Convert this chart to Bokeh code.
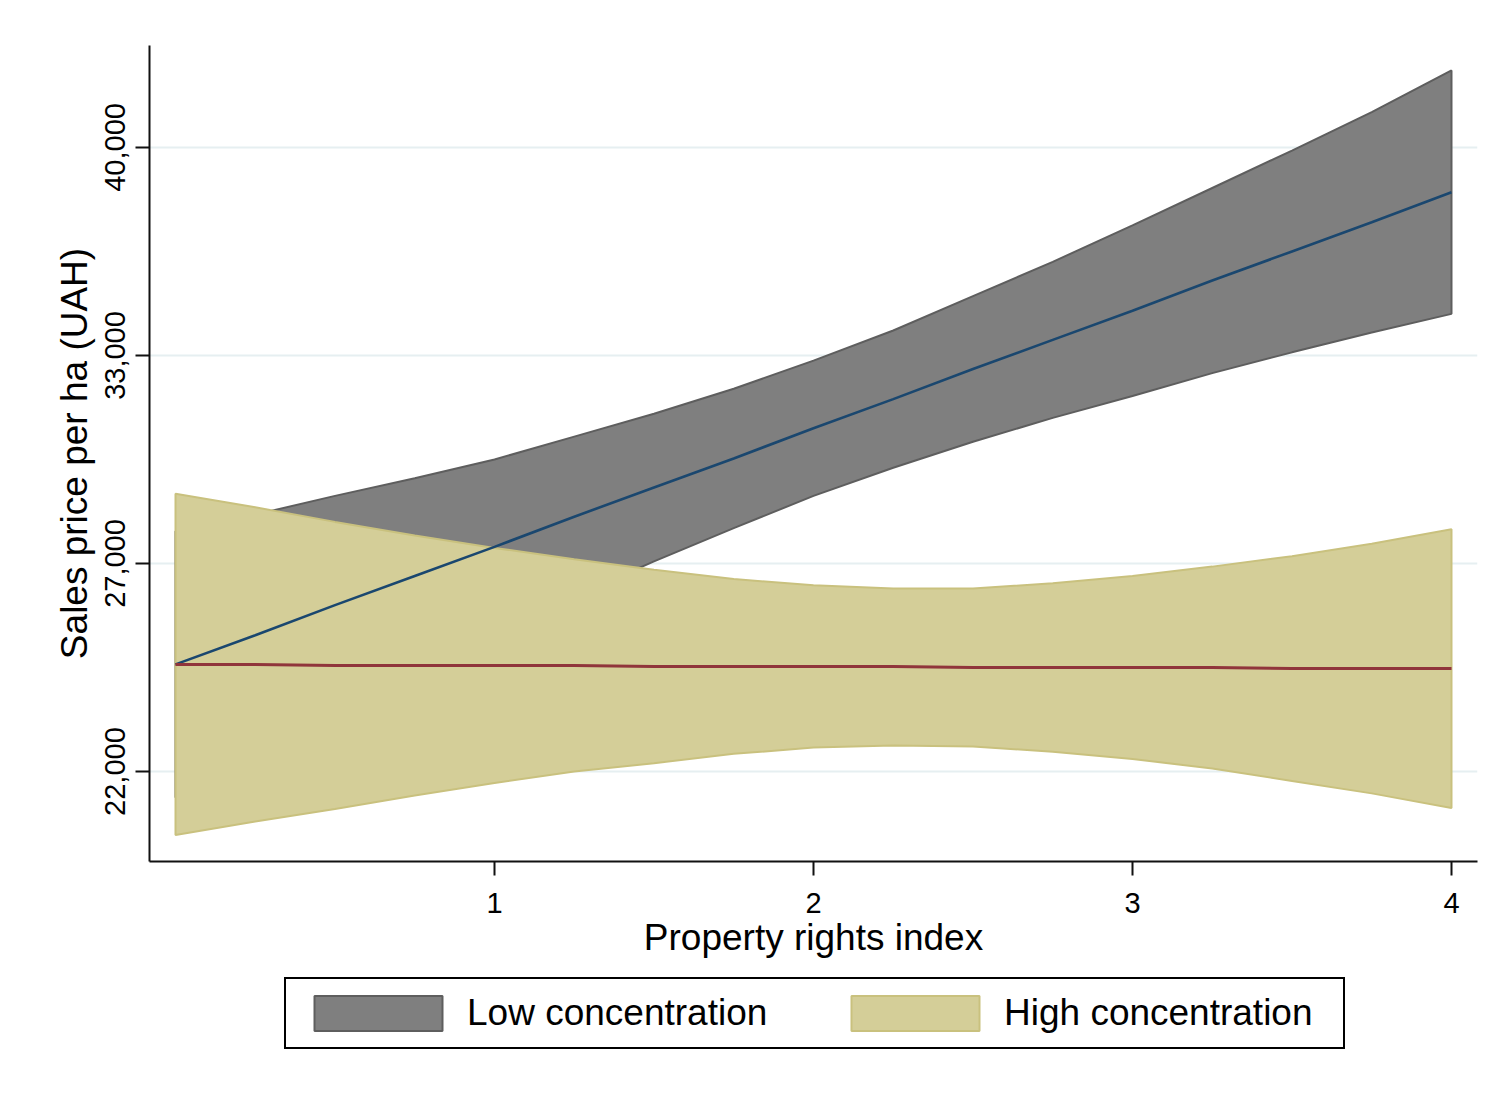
from bokeh.plotting import figure
from bokeh.layouts import column
from bokeh.models import Legend, LegendItem, FixedTicker, Range1d
from bokeh.embed import file_html
from bokeh.resources import INLINE

# ---- data (y in log of sales price per ha) ----
prop_index = [0, 0.25, 0.5, 0.75, 1, 1.25, 1.5, 1.75, 2, 2.25, 2.5, 2.75, 3, 3.25, 3.5, 3.75, 4]
low_fit = [10.103, 10.131, 10.160, 10.188, 10.216, 10.245, 10.273, 10.301, 10.330,
           10.358, 10.387, 10.415, 10.443, 10.472, 10.500, 10.528, 10.557]
low_upper = [10.231, 10.247, 10.265, 10.282, 10.300, 10.322, 10.344, 10.368, 10.395,
             10.424, 10.457, 10.490, 10.525, 10.561, 10.597, 10.634, 10.674]
low_lower = [9.975, 10.015, 10.055, 10.094, 10.132, 10.168, 10.202, 10.234, 10.265,
             10.292, 10.317, 10.340, 10.361, 10.383, 10.403, 10.422, 10.440]
high_fit = [10.103, 10.103, 10.102, 10.102, 10.102, 10.102, 10.101, 10.101, 10.101,
            10.101, 10.100, 10.100, 10.100, 10.100, 10.099, 10.099, 10.099]
high_upper = [10.267, 10.254, 10.240, 10.227, 10.215, 10.204, 10.194, 10.185, 10.179,
              10.176, 10.176, 10.181, 10.188, 10.197, 10.207, 10.219, 10.233]
high_lower = [9.939, 9.952, 9.964, 9.977, 9.989, 10.000, 10.008, 10.017, 10.023,
              10.025, 10.024, 10.019, 10.012, 10.003, 9.991, 9.979, 9.965]
x_ticks = [1, 2, 3, 4]
y_ticks = [10.0, 10.2, 10.4, 10.6]
y_tick_labels = ["22,000", "27,000", "33,000", "40,000"]
series_names = ["Low concentration", "High concentration"]

FONT = "Liberation Sans"
LOW_FILL, LOW_LINE = "#7f7f7f", "#5e5e5e"
HIGH_FILL, HIGH_LINE = "#d4ce98", "#c9c17e"

p = figure(width=1500, height=971, output_backend="svg", toolbar_location=None,
           x_range=Range1d(-0.0815, 4.0815), y_range=Range1d(9.9135, 10.698),
           min_border_left=149, min_border_right=23, min_border_top=45, min_border_bottom=110)
p.outline_line_color = None
p.background_fill_color = "white"
p.border_fill_color = "white"

# bands
gx = prop_index + prop_index[::-1]
low_poly = low_upper + low_lower[::-1]
high_poly = high_upper + high_lower[::-1]
p.patch(gx, low_poly, fill_color=LOW_FILL, line_color=LOW_LINE, line_width=2)
p.patch(gx, high_poly, fill_color=HIGH_FILL, line_color=HIGH_LINE, line_width=2)
p.line(prop_index, low_fit, line_color="#1a476f", line_width=2.6)
p.line(prop_index, high_fit, line_color="#90353b", line_width=3)

# axes
for ax in (p.xaxis[0], p.yaxis[0]):
    ax.axis_line_color = "#111111"
    ax.axis_line_width = 2
    ax.major_tick_line_color = "#111111"
    ax.major_tick_line_width = 2
    ax.major_tick_out = 14
    ax.major_tick_in = 0
    ax.minor_tick_line_color = None
    ax.major_label_text_font = FONT
    ax.major_label_text_font_size = "29px"
    ax.major_label_text_color = "black"
    ax.axis_label_text_font = FONT
    ax.axis_label_text_font_size = "37px"
    ax.axis_label_text_font_style = "normal"
    ax.axis_label_text_color = "black"

p.xaxis.ticker = FixedTicker(ticks=x_ticks)
p.xaxis.axis_label = "Property rights index"
p.xaxis.major_label_standoff = 17
p.xaxis.axis_label_standoff = 1

p.yaxis.ticker = FixedTicker(ticks=y_ticks)
p.yaxis.major_label_overrides = {t: l for t, l in zip(y_ticks, y_tick_labels)}
p.yaxis.major_label_orientation = "vertical"
p.yaxis.axis_label = "Sales price per ha (UAH)"
p.yaxis.major_label_standoff = 10
p.yaxis.axis_label_standoff = 8

p.xgrid.grid_line_color = None
p.ygrid.ticker = FixedTicker(ticks=y_ticks)
p.ygrid.grid_line_color = "#e6eff1"
p.ygrid.grid_line_width = 2

# ---- legend strip below the chart ----
lf = figure(width=1500, height=121, output_backend="svg", toolbar_location=None,
            x_axis_type=None, y_axis_type=None,
            x_range=Range1d(100, 101), y_range=Range1d(100, 101),
            min_border_left=149, min_border_right=23, min_border_top=0, min_border_bottom=0)
lf.outline_line_color = None
lf.xgrid.grid_line_color = None
lf.ygrid.grid_line_color = None
lf.border_fill_color = "white"
lr_low = lf.patch(gx, low_poly, fill_color=LOW_FILL, line_color=LOW_LINE, line_width=2)
lr_high = lf.patch(gx, high_poly, fill_color=HIGH_FILL, line_color=HIGH_LINE, line_width=2)

# location = bottom-left corner of the legend box, measured from the frame's bottom-left
legend = Legend(items=[LegendItem(label=series_names[0], renderers=[lr_low]),
                       LegendItem(label=series_names[1], renderers=[lr_high])],
                orientation="horizontal", location=(135, 43))
legend.label_text_font = FONT
legend.label_text_font_size = "37px"
legend.label_text_color = "black"
legend.glyph_width = 160
legend.glyph_height = 44
legend.label_standoff = 9
legend.label_width = 327
legend.spacing = 41
legend.padding = 12
legend.margin = 0
legend.border_line_color = "black"
legend.border_line_alpha = 1.0
legend.border_line_width = 2
legend.background_fill_color = "white"
legend.background_fill_alpha = 1.0
lf.add_layout(legend, "center")

layout = column(p, lf, spacing=0)
open("out.html", "w").write(file_html(layout, INLINE))
